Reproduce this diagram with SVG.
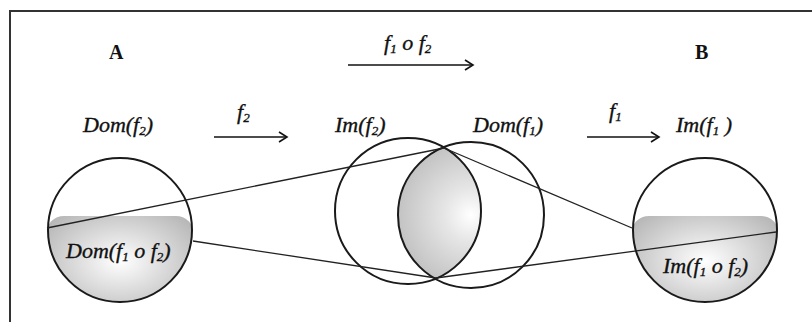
<svg xmlns="http://www.w3.org/2000/svg" width="812" height="322" viewBox="0 0 812 322">
<style>
.t{font-family:"Liberation Serif","Times New Roman",serif;font-style:italic;font-size:22px;fill:#111;stroke:#111;stroke-width:0.35}
.b{font-family:"Liberation Serif","Times New Roman",serif;font-weight:bold;font-size:20px;fill:#111}
.s{font-size:13px}
.c{fill:none;stroke:#1a1a1a;stroke-width:2}
.l{fill:none;stroke:#222;stroke-width:1.3}
.a{fill:none;stroke:#111;stroke-width:1.6}
</style>
<defs>
<marker id="ah" markerWidth="12" markerHeight="12" refX="10" refY="6" orient="auto" markerUnits="userSpaceOnUse">
<polyline points="2,1 10,6 2,11" fill="none" stroke="#111" stroke-width="1.6"/>
</marker>
<radialGradient id="g1" cx="0.5" cy="0.45" r="0.6">
<stop offset="0" stop-color="#ffffff"/>
<stop offset="1" stop-color="#b8b8b8"/>
</radialGradient>
<radialGradient id="g2" cx="0.5" cy="0.5" r="0.6">
<stop offset="0" stop-color="#ffffff"/>
<stop offset="0.3" stop-color="#e6e6e6"/>
<stop offset="1" stop-color="#b8b8b8"/>
</radialGradient>
<clipPath id="cA"><circle cx="120" cy="230" r="72"/></clipPath>
<clipPath id="cB"><circle cx="705" cy="230" r="72"/></clipPath>
<clipPath id="cL"><circle cx="408" cy="211" r="73"/></clipPath>
</defs>
<rect width="812" height="322" fill="#fff"/>
<path d="M10,322 V11 H812" fill="none" stroke="#333" stroke-width="2"/>

<g id="nodeA">
<rect x="46" y="216" width="148" height="100" rx="18" fill="url(#g1)" clip-path="url(#cA)"/>
<circle class="c" cx="120" cy="230" r="72"/>
<text class="b" x="109" y="59">A</text>
<text class="t" x="83" y="132">Dom(f<tspan class="s" dy="3">2</tspan><tspan dy="-3">)</tspan></text>
<text class="t" x="66" y="258">Dom(f<tspan class="s" dy="3">1</tspan><tspan dy="-3"> o f</tspan><tspan class="s" dy="3">2</tspan><tspan dy="-3">)</tspan></text>
</g>

<g id="nodeMid">
<circle cx="471" cy="215" r="73" fill="url(#g2)" clip-path="url(#cL)"/>
<circle class="c" cx="408" cy="211" r="73"/>
<circle class="c" cx="471" cy="215" r="73"/>
<text class="t" x="335" y="132">Im(f<tspan class="s" dy="3">2</tspan><tspan dy="-3">)</tspan></text>
<text class="t" x="473" y="132">Dom(f<tspan class="s" dy="3">1</tspan><tspan dy="-3">)</tspan></text>
</g>

<g id="nodeB">
<rect x="631" y="216" width="148" height="100" rx="18" fill="url(#g1)" clip-path="url(#cB)"/>
<circle class="c" cx="705" cy="230" r="72"/>
<text class="b" x="695" y="59">B</text>
<text class="t" x="676" y="132">Im(f<tspan class="s" dy="3">1</tspan><tspan dy="-3"> )</tspan></text>
<text class="t" x="663" y="273">Im(f<tspan class="s" dy="3">1</tspan><tspan dy="-3"> o f</tspan><tspan class="s" dy="3">2</tspan><tspan dy="-3">)</tspan></text>
</g>

<g id="connectors">
<line class="l" x1="47" y1="228" x2="444" y2="148"/>
<line class="l" x1="193" y1="241" x2="436" y2="278"/>
<line class="l" x1="444" y1="148" x2="632" y2="228"/>
<line class="l" x1="436" y1="278" x2="776" y2="232"/>
<line class="a" x1="214" y1="137" x2="287" y2="137" marker-end="url(#ah)"/>
<line class="a" x1="587" y1="137" x2="659" y2="137" marker-end="url(#ah)"/>
<line class="a" x1="348" y1="65" x2="473" y2="65" marker-end="url(#ah)"/>
<text class="t" x="237" y="119">f<tspan class="s" dy="3">2</tspan></text>
<text class="t" x="609" y="118">f<tspan class="s" dy="3">1</tspan></text>
<text class="t" x="384" y="50">f<tspan class="s" dy="3">1</tspan><tspan dy="-3"> o f</tspan><tspan class="s" dy="3">2</tspan></text>
</g>
</svg>
